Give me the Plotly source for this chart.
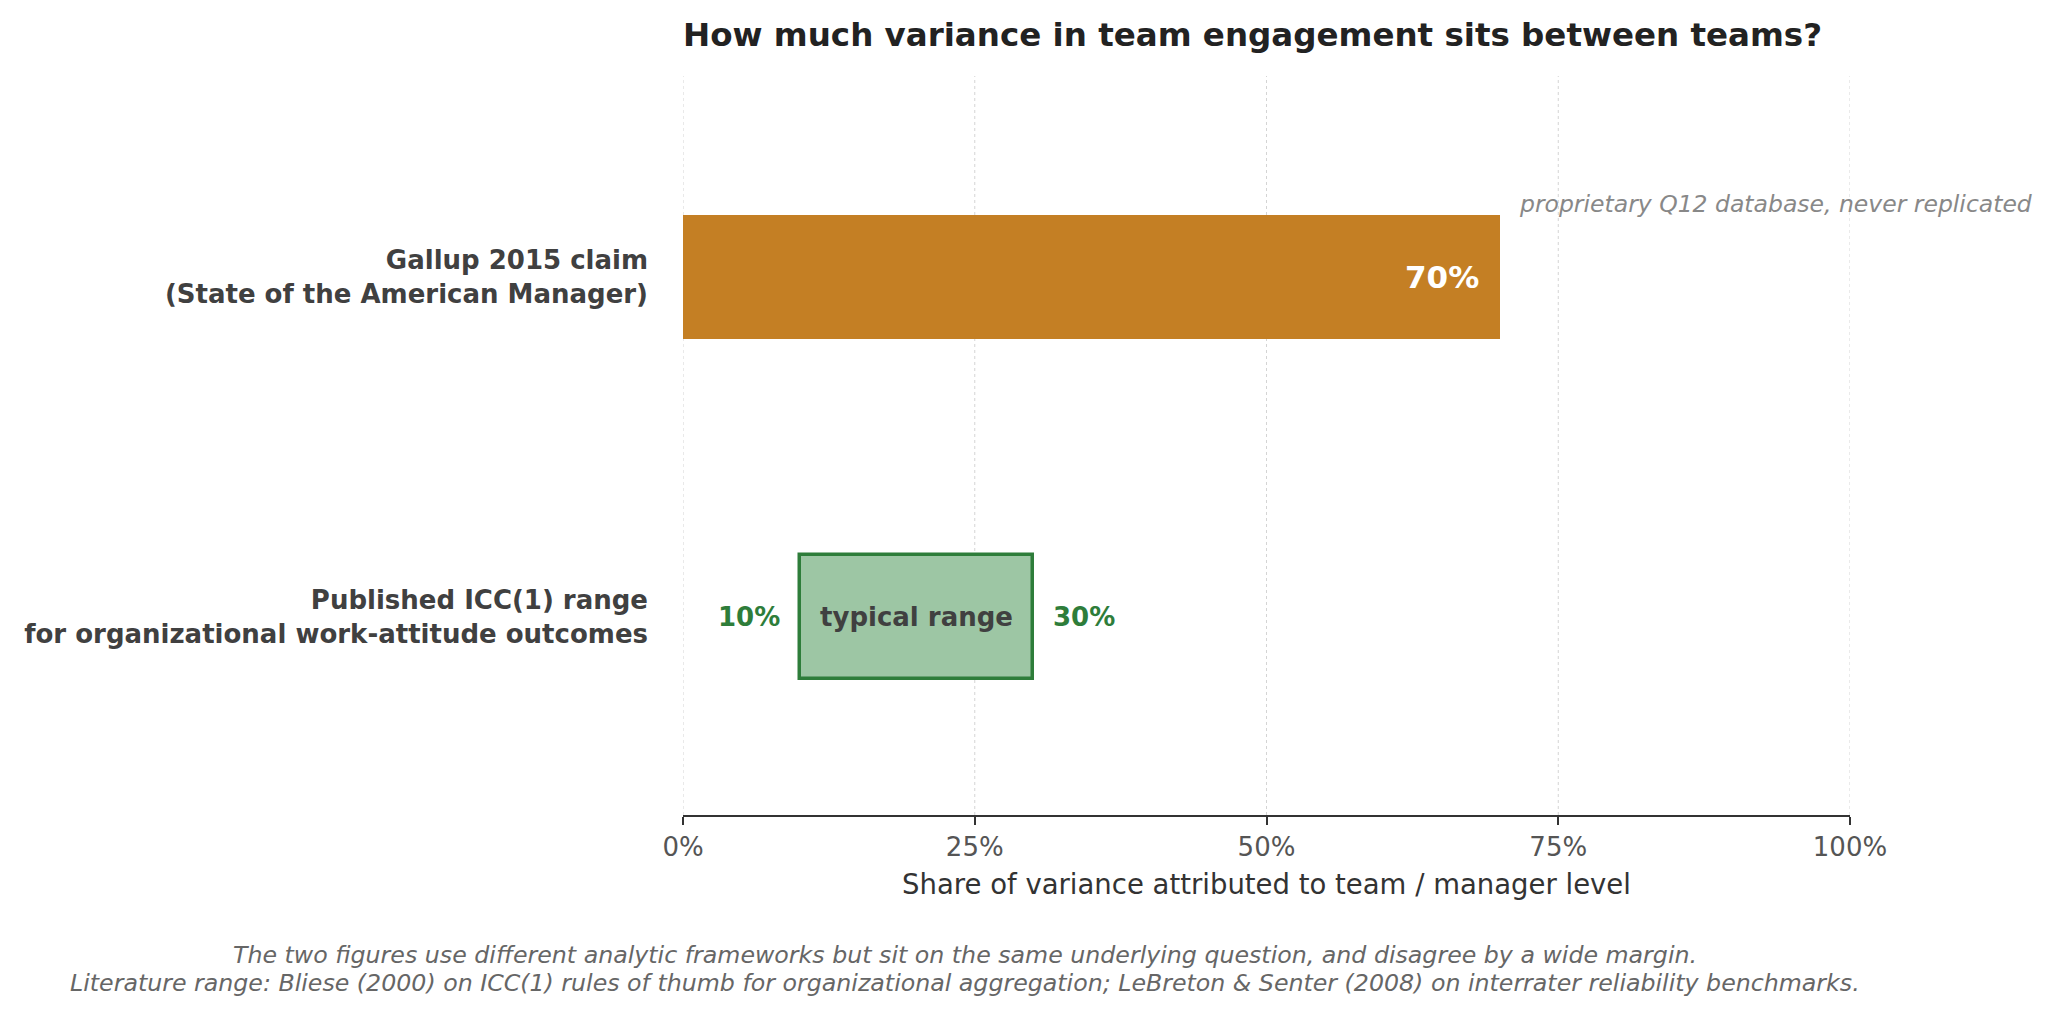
import plotly.graph_objects as go

# Data
categories = ["Gallup 2015 claim<br>(State of the American Manager)",
              "Published ICC(1) range<br>for organizational work-attitude outcomes"]
gallup_value = 70
icc_low = 10
icc_high = 30
x_ticks = [0, 25, 50, 75, 100]
x_tick_labels = ["0%", "25%", "50%", "75%", "100%"]
footnote_lines = [
    "The two figures use different analytic frameworks but sit on the same underlying question, and disagree by a wide margin.",
    "Literature range: Bliese (2000) on ICC(1) rules of thumb for organizational aggregation; LeBreton &amp; Senter (2008) on interrater reliability benchmarks.",
]

FONT = "DejaVu Sans"
ORANGE = "#C47F24"
GREEN_FILL = "#9DC6A4"
GREEN_LINE = "#2E7D3A"
DARK = "#404040"
BAR_W = 0.365

W, H = 2051, 1014
L, R, T, B = 675, 209, 68, 207
PW, PH = W - L - R, H - T - B

fig = go.Figure()
fig.add_trace(go.Bar(
    x=[gallup_value], y=[0], orientation="h", width=BAR_W,
    marker=dict(color=ORANGE, line=dict(width=0)), hoverinfo="skip",
))
fig.add_trace(go.Bar(
    x=[icc_high - icc_low], base=[icc_low], y=[1], orientation="h", width=BAR_W,
    marker=dict(color=GREEN_FILL, line=dict(color=GREEN_LINE, width=3.5)), hoverinfo="skip",
))

# dotted vertical gridlines at every tick (including the range edges)
shapes = [dict(type="line", xref="x", yref="paper", x0=t, x1=t, y0=0, y1=1,
               line=dict(color="#d4d4d4", width=1, dash="dot"), layer="below")
          for t in x_ticks]

ann = []
ann.append(dict(x=gallup_value, y=0, xref="x", yref="y", text=f"<b>{gallup_value}%</b>",
                showarrow=False, xanchor="right", xshift=-19,
                font=dict(family=FONT, size=31, color="white")))
ann.append(dict(x=gallup_value, y=0 - BAR_W / 2, xref="x", yref="y",
                text="<i>proprietary Q12 database, never replicated</i>",
                showarrow=False, xanchor="left", yanchor="middle", xshift=17, yshift=11,
                font=dict(family=FONT, size=23.5, color="#888888")))
ann.append(dict(x=(icc_low + icc_high) / 2, y=1, xref="x", yref="y", text="<b>typical range</b>",
                showarrow=False, font=dict(family=FONT, size=26, color=DARK)))
ann.append(dict(x=icc_low, y=1, xref="x", yref="y", text=f"<b>{icc_low}%</b>",
                showarrow=False, xanchor="right", xshift=-18,
                font=dict(family=FONT, size=26, color=GREEN_LINE)))
ann.append(dict(x=icc_high, y=1, xref="x", yref="y", text=f"<b>{icc_high}%</b>",
                showarrow=False, xanchor="left", xshift=18,
                font=dict(family=FONT, size=26, color=GREEN_LINE)))
for line, ypix in zip(footnote_lines, [947, 975]):
    ann.append(dict(x=(957 - L) / PW, y=(H - ypix - B) / PH, xref="paper", yref="paper",
                    text=f"<i>{line}</i>",
                    showarrow=False, xanchor="center", yanchor="middle", align="center",
                    font=dict(family=FONT, size=23.7, color="#666666")))

fig.update_layout(
    width=W, height=H,
    margin=dict(l=L, r=R, t=T, b=B),
    paper_bgcolor="white", plot_bgcolor="white",
    showlegend=False, bargap=0,
    title=dict(text="<b>How much variance in team engagement sits between teams?</b>",
               x=L / W, xanchor="left", xref="container",
               y=1 - 27 / H, yanchor="middle", yref="container",
               font=dict(family=FONT, size=32.5, color="#222222")),
    annotations=ann,
    shapes=shapes,
    font=dict(family=FONT),
)
fig.update_xaxes(
    range=[0, 100], tickvals=x_ticks, ticktext=x_tick_labels,
    showgrid=False,
    showline=True, linecolor="#333333", linewidth=2,
    ticks="outside", ticklen=8, tickwidth=1.5, tickcolor="#333333",
    tickfont=dict(family=FONT, size=26, color="#555555"),
    title=dict(text="Share of variance attributed to team / manager level",
               font=dict(family=FONT, size=27.5, color="#333333"), standoff=14),
    zeroline=False,
)
fig.update_yaxes(
    range=[1.583, -0.590], tickvals=[0, 1], ticktext=[f"<b>{c}</b>" for c in categories],
    showgrid=False, showline=False, zeroline=False, ticks="",
    tickfont=dict(family=FONT, size=26, color=DARK), ticklabelstandoff=34,
)

fig.write_html("out.html")
